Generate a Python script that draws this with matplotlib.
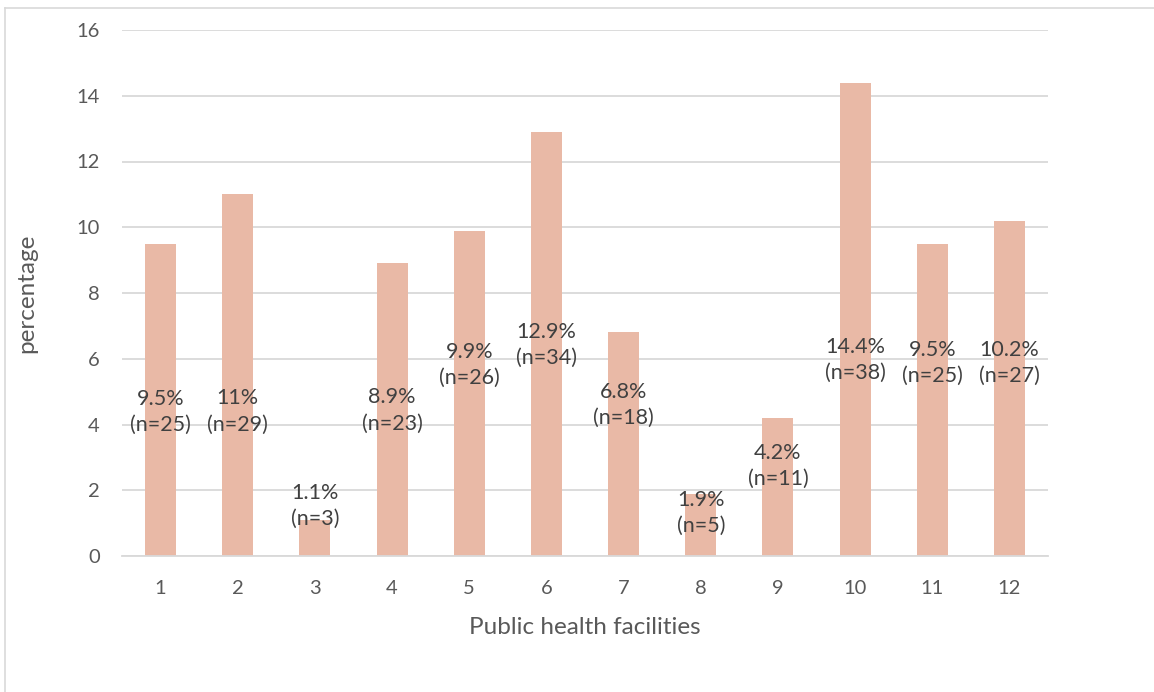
import matplotlib
matplotlib.use("Agg")
import matplotlib.pyplot as plt
from matplotlib.lines import Line2D

plt.rcParams['font.family'] = ['Lato', 'DejaVu Sans']

facilities = ["1", "2", "3", "4", "5", "6", "7", "8", "9", "10", "11", "12"]
percentages = [9.5, 11.0, 1.1, 8.9, 9.9, 12.9, 6.8, 1.9, 4.2, 14.4, 9.5, 10.2]
counts = [25, 29, 3, 23, 26, 34, 18, 5, 11, 38, 25, 27]
pct_text = ["9.5%", "11%", "1.1%", "8.9%", "9.9%", "12.9%", "6.8%", "1.9%", "4.2%", "14.4%", "9.5%", "10.2%"]
yticks = [0, 2, 4, 6, 8, 10, 12, 14, 16]

# vertical centre of each two-line data label (in axis units)
label_pos = [4.38, 4.40, 1.52, 4.42, 5.81, 6.42, 4.59, 1.31, 2.74, 5.96, 5.87, 5.87]

fig = plt.figure(figsize=(11.54, 6.92), dpi=100)
fig.patch.set_facecolor("white")

# chart border (left and top edges visible)
fig.add_artist(Line2D([5/1154, 5/1154], [0, 1 - 8/692], transform=fig.transFigure,
                      color="#D9D9D9", lw=1.2))
fig.add_artist(Line2D([5/1154, 1], [1 - 8/692, 1 - 8/692], transform=fig.transFigure,
                      color="#D9D9D9", lw=1.2))

ax = fig.add_axes([122/1154, 1 - 556/692, (1048 - 122)/1154, (556 - 30)/692])
x = list(range(len(facilities)))
ax.bar(x, percentages, width=0.4, color="#E9B9A6", zorder=2)

for i in x:
    ax.text(i, label_pos[i], f"{pct_text[i]}\n(n={counts[i]})", ha="center", va="center",
            fontsize=15.5, color="#404040", linespacing=1.4, zorder=3)

ax.set_xlim(-0.5, len(facilities) - 0.5)
ax.set_ylim(0, 16)
ax.set_yticks(yticks)
ax.set_yticklabels([str(t) for t in yticks])
ax.set_xticks(x)
ax.set_xticklabels(facilities)
ax.yaxis.grid(True, color="#D9D9D9", lw=1.3, zorder=0)
ax.set_axisbelow(True)
for s in ["left", "right", "top"]:
    ax.spines[s].set_visible(False)
ax.spines["bottom"].set_color("#D9D9D9")
ax.spines["bottom"].set_linewidth(1.3)
ax.tick_params(axis="both", length=0, labelsize=14.5, colors="#595959")
ax.tick_params(axis="y", pad=16)
ax.tick_params(axis="x", pad=17)

ax.set_xlabel("Public health facilities", fontsize=17.5, color="#595959", labelpad=15)
ax.set_ylabel("percentage", fontsize=17.5, color="#595959", labelpad=28)

fig.savefig("out.png", dpi=100, facecolor="white")
